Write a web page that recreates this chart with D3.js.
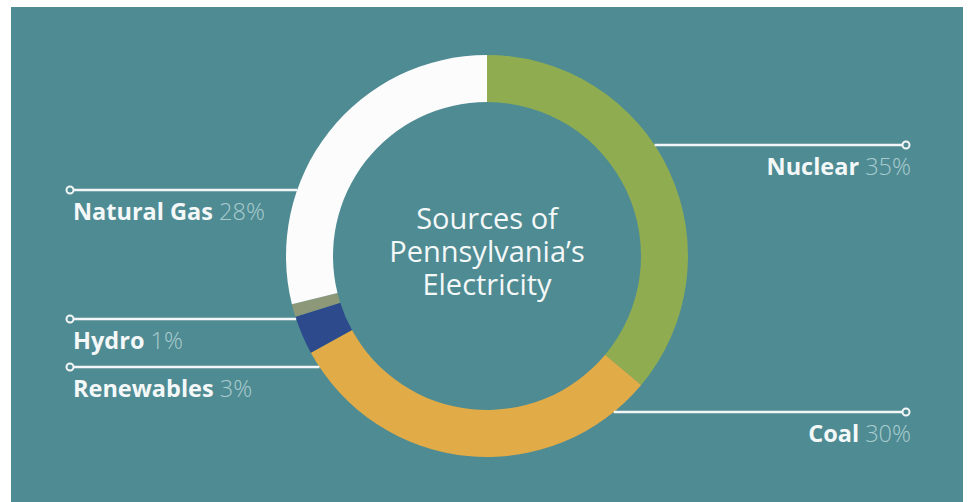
<!DOCTYPE html>
<html>
<head>
<meta charset="utf-8">
<script src="https://cdn.jsdelivr.net/npm/d3@7"></script>
<style>
  html, body { margin: 0; padding: 0; background: #fff; }
  svg { display: block; }
  text { font-family: "Open Sans", "Noto Sans", sans-serif; }
</style>
</head>
<body>
<div id="chart"></div>
<script>
// Data
const sources = ["Nuclear", "Coal", "Renewables", "Hydro", "Natural Gas"];
const shares = [35, 30, 3, 1, 28];
const colors = ["#8fad50", "#e1ab47", "#2c4a8c", "#8c9878", "#fcfcfc"];
const titleLines = ["Sources of", "Pennsylvania\u2019s", "Electricity"];

const width = 968;
const height = 502;
const cx = 487, cy = 256;
const outerR = 201, innerR = 154;

// label layout: side, line y (in px)
const labelLayout = {
  "Nuclear": { side: "right", y: 145 },
  "Coal": { side: "right", y: 412 },
  "Natural Gas": { side: "left", y: 190 },
  "Hydro": { side: "left", y: 319 },
  "Renewables": { side: "left", y: 367 },
};
const leftX = 70, rightX = 906;

const data = sources.map((s, i) => ({ name: s, value: shares[i], color: colors[i] }));

const svg = d3.select("#chart").append("svg")
  .attr("width", width)
  .attr("height", height);

// panel background
svg.append("rect")
  .attr("x", 11).attr("y", 7)
  .attr("width", 952).attr("height", height - 7)
  .attr("fill", "#4f8b93");

const pie = d3.pie().sort(null).value((d) => d.value);
const arc = d3.arc().innerRadius(innerR).outerRadius(outerR);

const g = svg.append("g").attr("transform", `translate(${cx},${cy})`);

g.selectAll("path")
  .data(pie(data))
  .join("path")
  .attr("d", arc)
  .attr("fill", (d) => d.data.color);

// center title
titleLines.forEach((line, i) => {
  g.append("text")
    .attr("x", 0)
    .attr("y", -27 + i * 33)
    .attr("text-anchor", "middle")
    .attr("fill", "#f4f8f8")
    .style("font-size", "29px")
    .text(line);
});

// leader lines + labels
const labels = svg.append("g");
data.forEach((d) => {
  const lay = labelLayout[d.name];
  const dy = lay.y - cy;
  const dx = Math.sqrt(outerR * outerR - dy * dy);
  const ringX = lay.side === "right" ? cx + dx : cx - dx;
  const endX = lay.side === "right" ? rightX : leftX;

  labels.append("line")
    .attr("x1", ringX).attr("x2", endX)
    .attr("y1", lay.y).attr("y2", lay.y)
    .attr("stroke", "#f2f6f6")
    .attr("stroke-width", 2.5);

  labels.append("circle")
    .attr("cx", endX).attr("cy", lay.y)
    .attr("r", 3.5)
    .attr("fill", "#4f8b93")
    .attr("stroke", "#f2f6f6")
    .attr("stroke-width", 2);

  const t = labels.append("text")
    .attr("x", lay.side === "right" ? endX + 5 : endX + 3)
    .attr("y", lay.y + 30)
    .attr("text-anchor", lay.side === "right" ? "end" : "start")
    .style("font-size", "23.5px");
  t.append("tspan")
    .attr("font-weight", 700)
    .attr("fill", "#f4f8f8")
    .text(d.name + " ");
  t.append("tspan")
    .attr("font-weight", 300)
    .attr("fill", "#a9cbcf")
    .text(d.value + "%");
});
</script>
</body>
</html>
